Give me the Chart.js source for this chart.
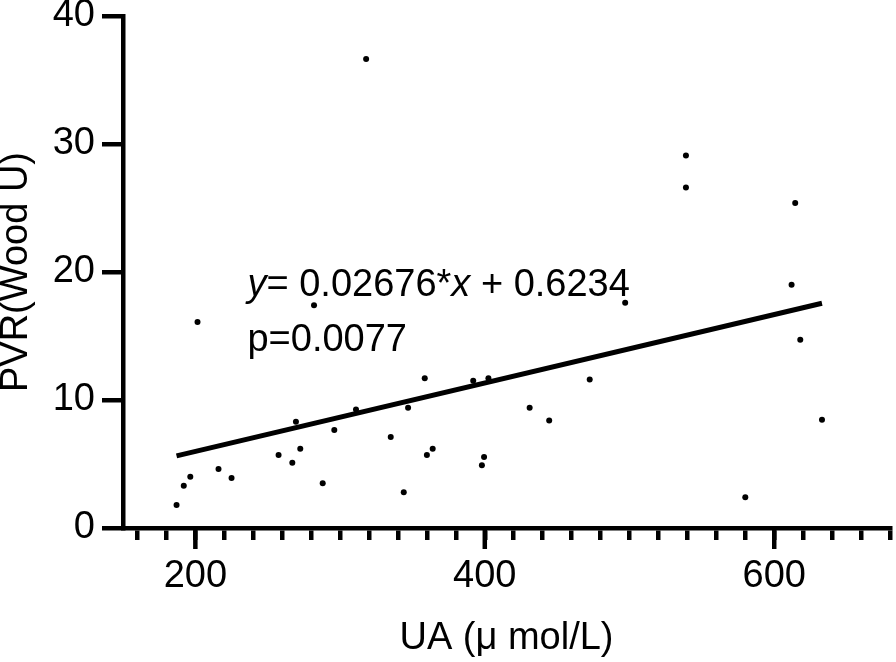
<!DOCTYPE html>
<html>
<head>
<meta charset="utf-8">
<title>PVR vs UA</title>
<script src="https://cdn.jsdelivr.net/npm/chart.js@4.4.1/dist/chart.umd.min.js"></script>
<style>
    html, body { margin: 0; padding: 0; background: #fff; }
    canvas { display: block; }
</style>
</head>
<body>
<canvas id="uaChart" width="896" height="662"></canvas>
<script>
// UA (x) ve PVR (y) değerleri - resimden okunan noktalar
const uaValues = [187, 192, 196.5, 201.5, 216, 225, 257.5, 267, 269.5, 272.5, 282, 288,
    296, 311, 318, 335, 344, 347, 358.5, 360, 364, 392, 398, 399.5, 402.5, 431, 444.5,
    472.5, 497, 539, 539, 580, 612, 614.5, 618, 633];
const pvrValues = [1.8, 3.3, 4.0, 16.1, 4.6, 3.9, 5.7, 5.1, 8.3, 6.2, 17.4, 3.5,
    7.65, 9.25, 36.65, 7.1, 2.8, 9.4, 11.7, 5.7, 6.2, 11.5, 4.9, 5.55, 11.7, 9.4, 8.4,
    11.6, 17.6, 29.1, 26.6, 2.4, 19.0, 25.4, 14.7, 8.45];

// regresyon doğrusu uç noktaları
const fitX = [187, 633];
const fitY = [5.63, 17.56];

// eksen değerleri
const xMajorTicks = [200, 400, 600];
const yTicks = [0, 10, 20, 30, 40];

const equationText = ['y', '= 0.02676*', 'x', ' + 0.6234'];
const pText = 'p=0.0077';

const FONT = '"Liberation Sans", Arial, Helvetica, sans-serif';

document.addEventListener("DOMContentLoaded", function () {

    Chart.defaults.font.family = FONT;
    Chart.defaults.color = '#000';

    const points = uaValues.map((v, i) => ({ x: v, y: pvrValues[i] }));
    const fitLine = fitX.map((v, i) => ({ x: v, y: fitY[i] }));

    // büyük x tikleri ve denklem yazısı
    const extrasPlugin = {
        id: 'extras',
        afterDraw(chart) {
            const ctx = chart.ctx;
            const xs = chart.scales.x;
            const ys = chart.scales.y;

            ctx.save();
            ctx.strokeStyle = '#000';
            ctx.lineWidth = 4.5;
            xMajorTicks.forEach(v => {
                const px = xs.getPixelForValue(v);
                ctx.beginPath();
                ctx.moveTo(px, xs.top);
                ctx.lineTo(px, xs.top + 21);
                ctx.stroke();
            });

            ctx.fillStyle = '#000';
            ctx.textBaseline = 'alphabetic';
            ctx.textAlign = 'left';
            let tx = xs.getPixelForValue(236);
            const ty1 = ys.getPixelForValue(18.1);
            const ty2 = ys.getPixelForValue(13.8);
            equationText.forEach((part, i) => {
                ctx.font = (i === 0 || i === 2 ? 'italic ' : '') + '38px ' + FONT;
                ctx.fillText(part, tx, ty1);
                tx += ctx.measureText(part).width;
            });
            ctx.font = '38px ' + FONT;
            ctx.fillText(pText, xs.getPixelForValue(236), ty2);
            ctx.restore();
        }
    };

    const ctxEl = document.getElementById('uaChart');
    new Chart(ctxEl.getContext('2d'), {
        type: 'scatter',
        data: {
            datasets: [{
                data: points,
                pointRadius: 3,
                pointBorderWidth: 0,
                pointBackgroundColor: '#000',
                pointHoverRadius: 3
            }, {
                data: fitLine,
                showLine: true,
                borderColor: '#000',
                borderWidth: 5,
                pointRadius: 0,
                pointHoverRadius: 0,
                fill: false
            }]
        },
        options: {
            responsive: false,
            animation: false,
            events: [],
            layout: { padding: { top: 16, right: 6, left: 0, bottom: 0 } },
            plugins: { legend: { display: false }, tooltip: { enabled: false } },
            scales: {
                x: {
                    type: 'linear',
                    min: 150,
                    max: 680,
                    border: { display: true, color: '#000', width: 4.5 },
                    grid: { drawOnChartArea: false, drawTicks: true, tickLength: 12, lineWidth: 4.5, tickWidth: 4.5, tickColor: '#000' },
                    ticks: {
                        stepSize: 20,
                        includeBounds: false,
                        autoSkip: false,
                        maxRotation: 0,
                        padding: 14,
                        font: { size: 38 },
                        callback: v => xMajorTicks.includes(v) ? String(v) : ''
                    },
                    title: {
                        display: true,
                        text: 'UA (μ mol/L)',
                        font: { size: 38, lineHeight: 1.2 },
                        padding: { top: 0, bottom: 1 }
                    },
                    afterFit: s => { s.height = 134; s.paddingLeft = 0; s.paddingRight = 0; }
                },
                y: {
                    type: 'linear',
                    min: 0,
                    max: 40,
                    border: { display: true, color: '#000', width: 4.5 },
                    grid: { drawOnChartArea: false, drawTicks: true, tickLength: 21, lineWidth: 4.5, tickWidth: 4.5, tickColor: '#000' },
                    afterBuildTicks: s => { s.ticks = yTicks.map(v => ({ value: v })); },
                    ticks: {
                        padding: 7,
                        font: { size: 38 }
                    },
                    title: {
                        display: true,
                        text: 'PVR(Wood U)',
                        font: { size: 38, lineHeight: 0.88 },
                        padding: { top: 0, bottom: 0 }
                    },
                    afterFit: s => { s.width = 123; s.paddingTop = 0; s.paddingBottom = 0; }
                }
            }
        },
        plugins: [extrasPlugin]
    });
});
</script>
</body>
</html>
